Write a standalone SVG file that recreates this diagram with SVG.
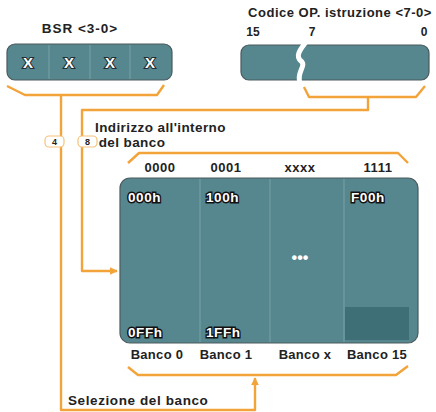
<svg xmlns="http://www.w3.org/2000/svg" width="436" height="412" viewBox="0 0 436 412">
<defs>
<style>
.t{font-family:"Liberation Sans","DejaVu Sans",sans-serif;font-weight:bold;fill:#222}
.c{text-anchor:middle}
.reg{fill:#56878f;stroke:#4a5a5e;stroke-width:1.2}
.div{stroke:#79a2a8;stroke-width:1}
.wx{font-family:"Liberation Sans",sans-serif;font-weight:bold;font-size:15px;fill:#fff;stroke:#1f2f33;stroke-width:2.2;paint-order:stroke;text-anchor:middle}
.addr{font-family:"Liberation Sans",sans-serif;font-weight:bold;font-size:13.5px;letter-spacing:0.6px;fill:#fff;stroke:#111;stroke-width:2.8;paint-order:stroke}
.ln{fill:none;stroke:#f2a33a;stroke-width:2.4;stroke-linejoin:round}
.tag{fill:#fff;stroke:#f5c27a;stroke-width:1.2}
</style>
<marker id="ah" viewBox="0 0 10 10" refX="9" refY="5" markerWidth="3.2" markerHeight="3.2" orient="auto" markerUnits="strokeWidth">
<path d="M0 0 L10 5 L0 10 Z" fill="#f2a33a"/>
</marker>
</defs>
<rect width="436" height="412" fill="#fff"/>

<g id="connectors">
<path class="ln" d="M7 86 L25 95 L157 95 L164 85"/>
<path class="ln" d="M304 87 L309 97 L416 97 L425 86"/>
<path class="ln" d="M128 163 L139 153 L398 153 L408 163"/>
<path class="ln" d="M128 367 L138 375 L396 375 L408 366"/>
<path class="ln" d="M61 95 L61 410 L255 410 L255 378" marker-end="url(#ah)"/>
<path class="ln" d="M368 97 L368 110 L82 110 L82 271 L117 271" marker-end="url(#ah)"/>
<rect class="tag" x="45" y="136" width="19" height="11" rx="4"/>
<text class="t" x="54.5" y="145" font-size="9" text-anchor="middle">4</text>
<rect class="tag" x="78" y="136" width="19" height="11" rx="4"/>
<text class="t" x="87.5" y="145" font-size="9" text-anchor="middle">8</text>
</g>

<g id="bsr">
<text class="t c" x="80" y="33" font-size="13.5" letter-spacing="1">BSR &lt;3-0&gt;</text>
<rect class="reg" x="7" y="44" width="165" height="36" rx="8"/>
<line class="div" x1="49" y1="45" x2="49" y2="79"/>
<line class="div" x1="90" y1="45" x2="90" y2="79"/>
<line class="div" x1="130" y1="45" x2="130" y2="79"/>
<text class="wx" x="28" y="68">X</text>
<text class="wx" x="69" y="68">X</text>
<text class="wx" x="110" y="68">X</text>
<text class="wx" x="150" y="68">X</text>
</g>

<g id="opcode">
<text class="t c" x="340" y="17" font-size="13" letter-spacing="0.5">Codice OP. istruzione &lt;7-0&gt;</text>
<text class="t c" x="253" y="36" font-size="12">15</text>
<text class="t c" x="312" y="36" font-size="12">7</text>
<text class="t c" x="424" y="36" font-size="12">0</text>
<rect class="reg" x="241" y="45" width="188" height="35" rx="8"/>
<path d="M306 42 C300 50 295 56 301 61 C307 66 296 72 300 83" fill="none" stroke="#fff" stroke-width="5"/>
</g>

<g id="indirizzo">
<text class="t" x="95" y="132" font-size="13.5" letter-spacing="0.4">Indirizzo all'interno</text>
<text class="t c" x="132" y="147" font-size="13.5" letter-spacing="0.4">del banco</text>
</g>

<g id="banks">
<text class="t c" x="160" y="172" font-size="13" letter-spacing="0.5">0000</text>
<text class="t c" x="226" y="172" font-size="13" letter-spacing="0.5">0001</text>
<text class="t c" x="300" y="172" font-size="13" letter-spacing="0.5">xxxx</text>
<text class="t c" x="378" y="172" font-size="13" letter-spacing="0.5">1111</text>
<rect class="reg" x="120" y="178" width="298" height="165" rx="10"/>
<rect x="345" y="307" width="64" height="33" fill="#3f6f76"/>
<line class="div" x1="200" y1="179" x2="200" y2="342"/>
<line class="div" x1="270" y1="179" x2="270" y2="342"/>
<line class="div" x1="344" y1="179" x2="344" y2="342"/>
<text class="addr" x="128" y="202">000h</text>
<text class="addr" x="206" y="202">100h</text>
<text class="addr" x="351" y="202">F00h</text>
<text class="addr" x="128" y="337">0FFh</text>
<text class="addr" x="206" y="337">1FFh</text>
<text x="300" y="263" font-family="Liberation Sans,sans-serif" font-weight="bold" font-size="16" fill="#fff" text-anchor="middle">•••</text>
<text class="t c" x="157" y="359" font-size="13" letter-spacing="0.3">Banco 0</text>
<text class="t c" x="226" y="359" font-size="13" letter-spacing="0.3">Banco 1</text>
<text class="t c" x="305" y="359" font-size="13" letter-spacing="0.3">Banco x</text>
<text class="t c" x="377" y="359" font-size="13" letter-spacing="0.3">Banco 15</text>
</g>

<g id="selezione">
<text class="t" x="68" y="405" font-size="13.5" letter-spacing="0.6">Selezione del banco</text>
</g>
</svg>
